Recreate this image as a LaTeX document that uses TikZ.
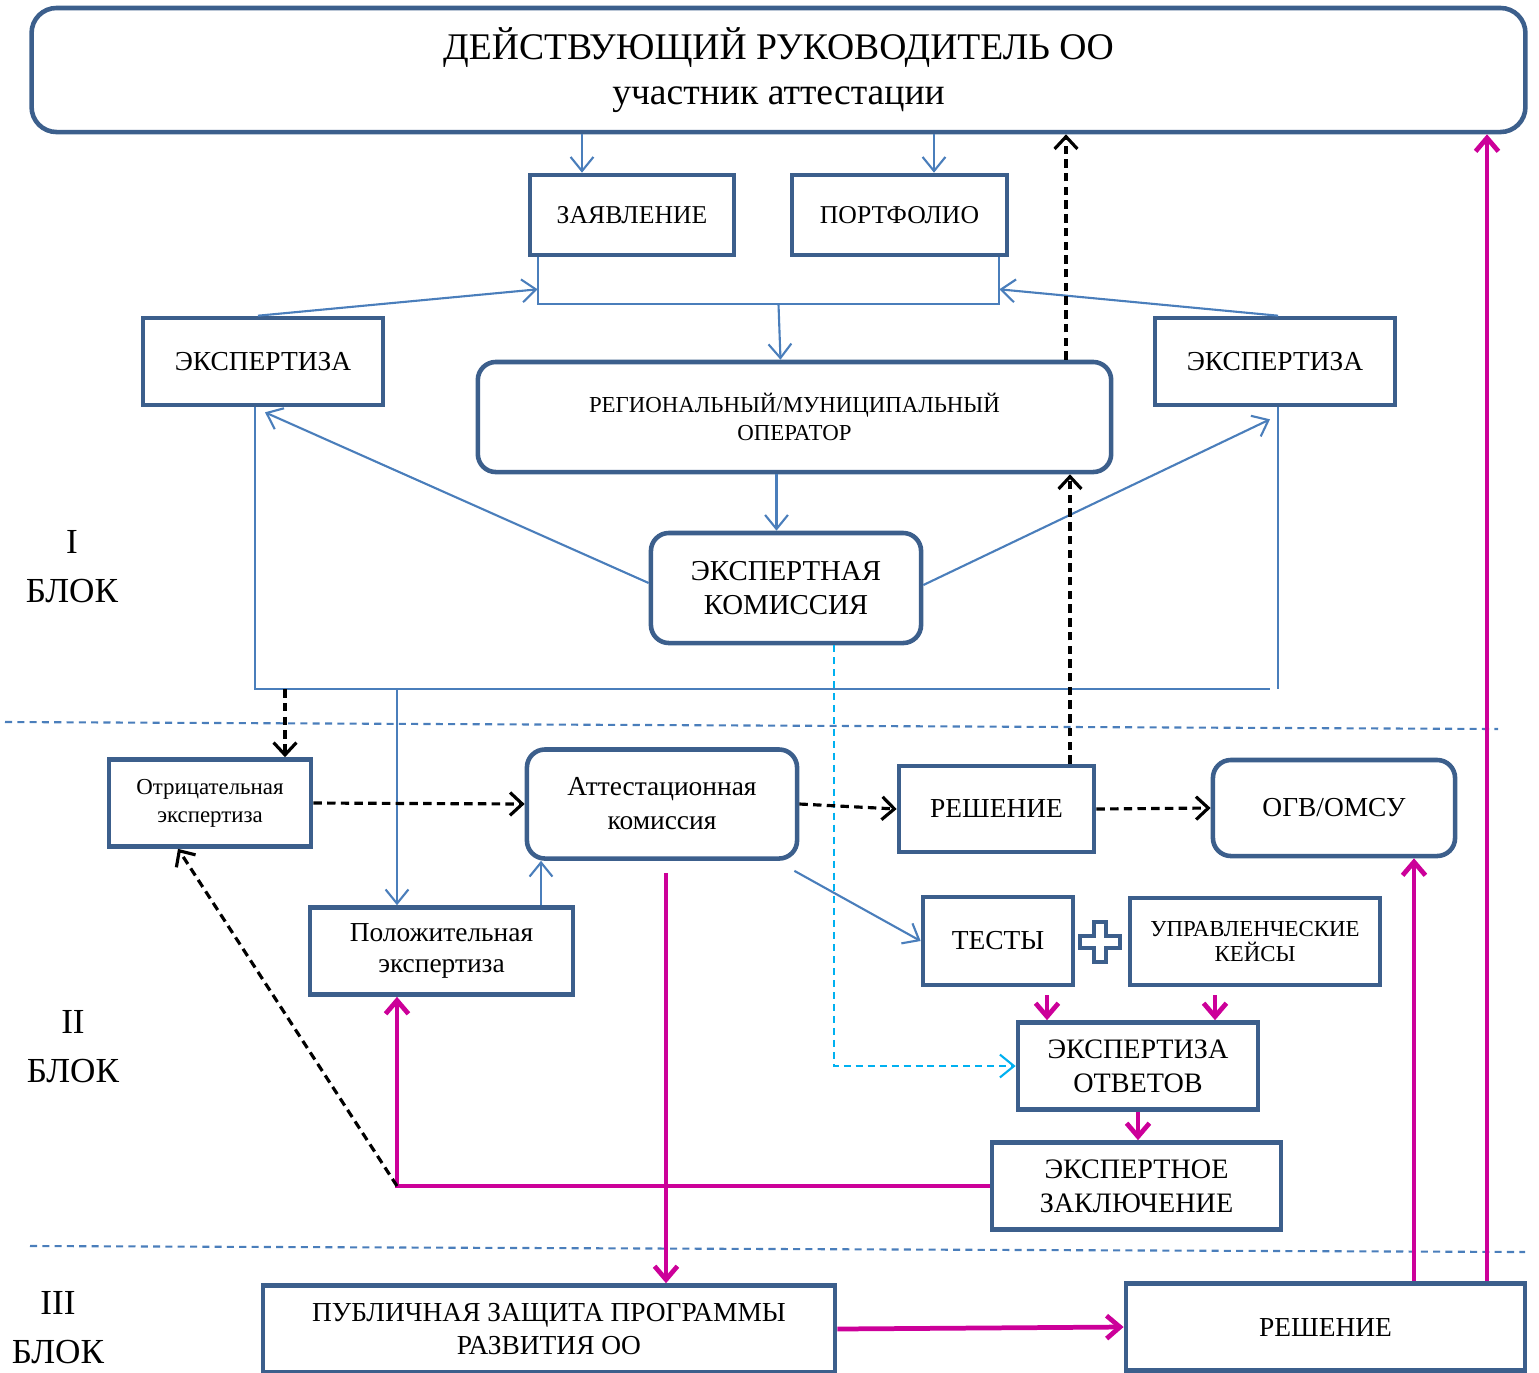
\documentclass[tikz,border=0pt]{standalone}
\usepackage{fontspec}
\setmainfont{Liberation Serif}
\usepackage{xcolor}
\usetikzlibrary{arrows.meta, calc}

\definecolor{boxblue}{RGB}{60,95,140}
\definecolor{linkblue}{RGB}{74,126,187}
\definecolor{attpink}{RGB}{204,0,153}
\definecolor{skyblue}{RGB}{0,176,240}

\begin{document}
\begin{tikzpicture}[
    x=0.01cm, y=-0.01cm,
    box/.style={draw=boxblue, line width=1.3pt, fill=white, inner sep=0pt, align=center},
    rbox/.style={box, rounded corners=0.18cm},
    label/.style={inner sep=0pt, align=center, font=\fontsize{10}{14}\selectfont},
    link/.style={draw=linkblue, line width=0.6pt, -{Straight Barb[length=4pt,width=6.5pt]}},
    bracket/.style={draw=linkblue, line width=0.6pt},
    dasharrow/.style={draw=black, line width=0.9pt, dash pattern=on 2.4pt off 1.5pt, -{Straight Barb[length=3.5pt,width=6.5pt]}},
    pinkarrow/.style={draw=attpink, line width=1.35pt, -{Straight Barb[length=3.8pt,width=6.5pt]}},
    skyarrow/.style={draw=skyblue, line width=0.6pt, dash pattern=on 2pt off 1.4pt, -{Straight Barb[length=4pt,width=6.5pt]}},
    separator/.style={draw=linkblue, line width=0.6pt, dash pattern=on 2pt off 1.5pt}
]
\useasboundingbox (0,0) rectangle (1539,1372);

% Nodes
\node[rbox, rounded corners=0.25cm, minimum width=14.93cm, minimum height=1.24cm,
      font=\fontsize{10.7}{12.8}\selectfont] (leader) at (778.5,70)
      {ДЕЙСТВУЮЩИЙ РУКОВОДИТЕЛЬ ОО\\участник аттестации};
\node[box, minimum width=2.04cm, minimum height=0.80cm, font=\fontsize{7.3}{9}\selectfont] (zayav) at (632,215) {ЗАЯВЛЕНИЕ};
\node[box, minimum width=2.15cm, minimum height=0.80cm, font=\fontsize{7.3}{9}\selectfont] (portf) at (899.5,215) {ПОРТФОЛИО};
\node[box, minimum width=2.40cm, minimum height=0.87cm, font=\fontsize{7.8}{9}\selectfont] (expL) at (263,361.5) {ЭКСПЕРТИЗА};
\node[box, minimum width=2.40cm, minimum height=0.87cm, font=\fontsize{7.8}{9}\selectfont] (expR) at (1275,361.5) {ЭКСПЕРТИЗА};
\node[rbox, minimum width=6.33cm, minimum height=1.10cm, font=\fontsize{6.5}{8}\selectfont] (oper) at (794.5,417)
      {РЕГИОНАЛЬНЫЙ/МУНИЦИПАЛЬНЫЙ\\ОПЕРАТОР};
\node[rbox, minimum width=2.70cm, minimum height=1.10cm, font=\fontsize{8.2}{9.7}\selectfont] (ekom) at (786,588)
      {ЭКСПЕРТНАЯ\\КОМИССИЯ};

\node[box, minimum width=2.02cm, minimum height=0.87cm, font=\fontsize{6.5}{8}\selectfont] (negexp) at (210,803)
      {Отрицательная\\экспертиза};
\node[rbox, minimum width=2.70cm, minimum height=1.09cm, font=\fontsize{7.8}{9.7}\selectfont] (attkom) at (662,804)
      {Аттестационная\\комиссия};
\node[box, minimum width=1.95cm, minimum height=0.86cm, font=\fontsize{7.8}{9}\selectfont] (resh) at (996.5,809) {РЕШЕНИЕ};
\node[rbox, minimum width=2.42cm, minimum height=0.96cm, font=\fontsize{7.8}{9}\selectfont] (ogv) at (1334,808) {ОГВ/ОМСУ};
\node[box, minimum width=2.63cm, minimum height=0.87cm, font=\fontsize{7.8}{8.8}\selectfont] (posexp) at (441.5,951)
      {Положительная\\экспертиза};
\node[box, minimum width=1.50cm, minimum height=0.88cm, font=\fontsize{7.8}{9}\selectfont] (tests) at (998,941) {ТЕСТЫ};
\node[box, minimum width=2.50cm, minimum height=0.87cm, font=\fontsize{6.5}{7.1}\selectfont] (cases) at (1255,941.5)
      {УПРАВЛЕНЧЕСКИЕ\\КЕЙСЫ};
\node[box, minimum width=2.40cm, minimum height=0.87cm, font=\fontsize{8}{9.7}\selectfont] (ansexp) at (1138,1066)
      {ЭКСПЕРТИЗА\\ОТВЕТОВ};
\node[box, minimum width=2.89cm, minimum height=0.87cm, font=\fontsize{8}{9.7}\selectfont] (concl) at (1136.5,1186)
      {ЭКСПЕРТНОЕ\\ЗАКЛЮЧЕНИЕ};

\node[box, minimum width=5.72cm, minimum height=0.87cm, font=\fontsize{7.8}{9.4}\selectfont] (pub) at (549,1329)
      {ПУБЛИЧНАЯ ЗАЩИТА ПРОГРАММЫ\\РАЗВИТИЯ ОО};
\node[box, minimum width=3.99cm, minimum height=0.87cm, font=\fontsize{7.8}{9}\selectfont] (resh2) at (1325.5,1327) {РЕШЕНИЕ};

% Block labels
\node[label] (blockI) at (72,567) {I\\БЛОК};
\node[label] (blockII) at (73,1047) {II\\БЛОК};
\node[label] (blockIII) at (58,1328) {III\\БЛОК};

% Plus sign
\draw[boxblue, line width=1.1pt, fill=white, shift={(1100,942)}]
    (-6,-20) -- (6,-20) -- (6,-6) -- (20,-6) -- (20,6) -- (6,6) -- (6,20)
    -- (-6,20) -- (-6,6) -- (-20,6) -- (-20,-6) -- (-6,-6) -- cycle;

% Block separators
\draw[separator] (5,722) -- (1498,729);
\draw[separator] (30,1246) -- (1525,1252);

% Helper points
\coordinate (zin) at ($(zayav.north)+(-50,0)$);
\coordinate (pin) at ($(portf.north)+(34.5,0)$);
\coordinate (brL) at ($(zayav.south west)+(10,0)$);
\coordinate (brR) at ($(portf.south east)+(-10,0)$);
\coordinate (brmid) at ($(brL)!0.5!(brR)+(10,47)$);
\coordinate (opout) at ($(oper.south)+(-18,0)$);
\coordinate (bot) at ($(expL.south)+(0,282)$);
\coordinate (nin) at ($(negexp.north)+(75,0)$);
\coordinate (posin) at ($(posexp.north)+(-44.5,0)$);
\coordinate (posout) at ($(posexp.north)+(99.5,0)$);
\coordinate (posback) at ($(posexp.south)+(-44.5,0)$);
\coordinate (upL) at ($(oper.north)+(271.5,0)$);
\coordinate (upR) at ($(resh.north)+(73.5,0)$);
\coordinate (pinkR) at ($(resh2.north)+(161.5,0)$);
\coordinate (pinkO) at ($(resh2.north)+(88.5,0)$);
\coordinate (attout) at ($(attkom.south)+(4,12)$);
\coordinate (tout) at ($(tests.south)+(49,8)$);
\coordinate (cout) at ($(cases.south)+(-40,8)$);
\coordinate (corner) at (posback |- concl.west);

% Edges
\draw[link] (leader.south -| zin) -- (zin);
\draw[link] (leader.south -| pin) -- (pin);
\draw[bracket] (brL) |- ($(brR)+(0,47)$) -- (brR);
\draw[link] (brmid) -- ($(brmid |- oper.north)+(2,0)$);
\draw[link] ($(expL.north)+(-5,0)$) -- ($(brL)+(0,32)$);
\draw[link] ($(expR.north)+(3,0)$) -- ($(brR)+(0,32)$);
\draw[link] (opout) -- (opout |- ekom.north);
\draw[link] ($(ekom.west)+(0,-5)$) -- ($(expL.south)+(2,5)$);
\draw[link] ($(ekom.east)+(0,-3)$) -- ($(expR.south)+(-5,12)$);
\draw[bracket] ($(expL.south)+(-8,0)$) |- ($(expR.south)+(-5,282)$);
\draw[bracket] ($(expR.south)+(3,0)$) -- ++(0,282);
\draw[dasharrow] (bot -| nin) -- (nin);
\draw[link] (bot -| posin) -- (posin);
\draw[skyarrow] ($(ekom.south)+(48,0)$) |- (ansexp.west);
\draw[dasharrow] (upL) -- (upL |- leader.south);
\draw[pinkarrow] (pinkR) -- (pinkR |- leader.south);

\draw[dasharrow] (negexp.east) -- (attkom.west);
\draw[dasharrow] (attkom.east) -- (resh.west);
\draw[dasharrow] (resh.east) -- (ogv.west);
\draw[dasharrow] (upR) -- (upR |- oper.south);
\draw[link] (posout) -- (posout |- attkom.south);
\draw[link] ($(attkom.south east)+(-5,10)$) -- (tests.west);
\draw[pinkarrow] (tout) -- (tout |- ansexp.north);
\draw[pinkarrow] (cout) -- (cout |- ansexp.north);
\draw[pinkarrow] (ansexp.south) -- (ansexp.south |- concl.north);
\draw[pinkarrow] (concl.west) -| (posback);
\draw[dasharrow] (corner) -- ($(negexp.south)+(-32,0)$);
\draw[pinkarrow] (attout) -- (attout |- pub.north);
\draw[pinkarrow] (pub.east) -- (resh2.west);
\draw[pinkarrow] (pinkO) -- (pinkO |- ogv.south);

\end{tikzpicture}
\end{document}
